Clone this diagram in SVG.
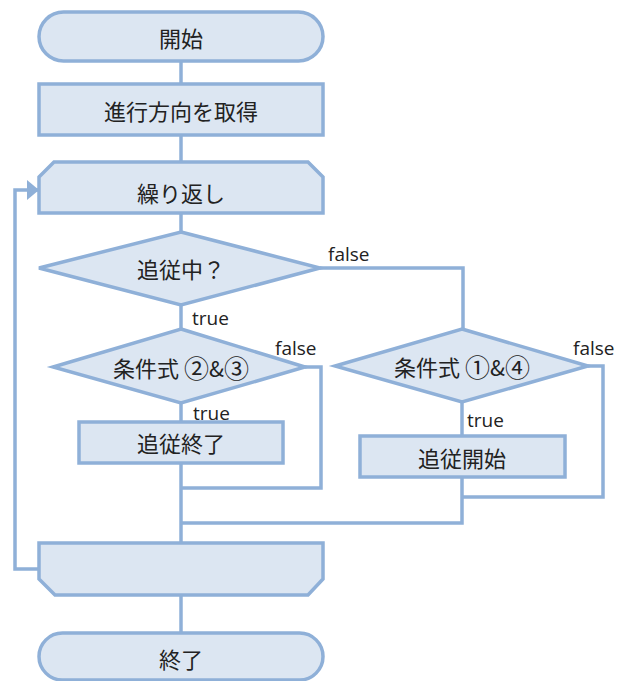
<svg xmlns="http://www.w3.org/2000/svg" width="632" height="681" viewBox="0 0 632 681">
<style>
.n{fill:#dce6f2;stroke:#8fb0d8;stroke-width:3.5;stroke-linejoin:miter}
.c{fill:none;stroke:#8fb0d8;stroke-width:3.5}
.t{font-family:"Noto Sans CJK JP","Noto Sans",sans-serif;font-size:22px;fill:#222;text-anchor:middle;dominant-baseline:central}
.cn{font-size:25px}
.l{font-family:"Open Sans","Noto Sans",sans-serif;font-size:19px;fill:#222}
</style>
<defs>
<marker id="ah" viewBox="0 0 12 20" refX="11" refY="10" markerWidth="12" markerHeight="20" orient="auto" markerUnits="userSpaceOnUse">
<path d="M0,0 L12,10 L0,20 z" fill="#8fb0d8"/>
</marker>
</defs>
<g id="connectors">
<path class="c" d="M181,61 V84"/>
<path class="c" d="M181,135 V162"/>
<path class="c" d="M181,213 V232"/>
<path class="c" d="M181,305 V329"/>
<path class="c" d="M320,268 H463 V329"/>
<path class="c" d="M181,403 V422"/>
<path class="c" d="M305,367 H321 V488 H181"/>
<path class="c" d="M181,463 V543"/>
<path class="c" d="M462,402 V436"/>
<path class="c" d="M588,366 H603 V497 H462"/>
<path class="c" d="M462,477 V523 H181"/>
<path class="c" d="M181,595 V633"/>
<path class="c" d="M39,569 H15 V190 H38" marker-end="url(#ah)"/>
</g>
<g id="start">
<rect class="n" x="39" y="12" width="284" height="49" rx="24.5" ry="24.5"/>
<text class="t" x="181" y="37">開始</text>
</g>
<g id="getDirection">
<rect class="n" x="39" y="84" width="284" height="51"/>
<text class="t" x="181" y="110">進行方向を取得</text>
</g>
<g id="loopStart">
<path class="n" d="M54,162 H308 L323,177 V213 H39 V177 Z"/>
<text class="t" x="181" y="192">繰り返し</text>
</g>
<g id="isFollowing">
<path class="n" d="M181,232 L320,268 L181,305 L39,268 Z"/>
<text class="t" x="181" y="268">追従中？</text>
</g>
<g id="cond23">
<path class="n" d="M181,329 L305,367 L181,403 L53,367 Z"/>
<text class="t" x="181" y="367">条件式 <tspan class="cn">②</tspan>&amp;<tspan class="cn">③</tspan></text>
</g>
<g id="stopFollow">
<rect class="n" x="79" y="422" width="204" height="41"/>
<text class="t" x="181" y="442">追従終了</text>
</g>
<g id="cond14">
<path class="n" d="M462,329 L588,366 L462,402 L335,366 Z"/>
<text class="t" x="462" y="366">条件式 <tspan class="cn">①</tspan>&amp;<tspan class="cn">④</tspan></text>
</g>
<g id="startFollow">
<rect class="n" x="360" y="436" width="205" height="41"/>
<text class="t" x="462" y="457">追従開始</text>
</g>
<g id="loopEnd">
<path class="n" d="M39,543 H323 V579 L308,595 H55 L39,579 Z"/>
</g>
<g id="end">
<rect class="n" x="39" y="633" width="284" height="47" rx="23.5" ry="23.5"/>
<text class="t" x="181" y="658">終了</text>
</g>
<g id="labels">
<text class="l" x="328" y="261">false</text>
<text class="l" x="192" y="325">true</text>
<text class="l" x="275" y="355">false</text>
<text class="l" x="193" y="420">true</text>
<text class="l" x="573" y="355">false</text>
<text class="l" x="467" y="427">true</text>
</g>
</svg>
